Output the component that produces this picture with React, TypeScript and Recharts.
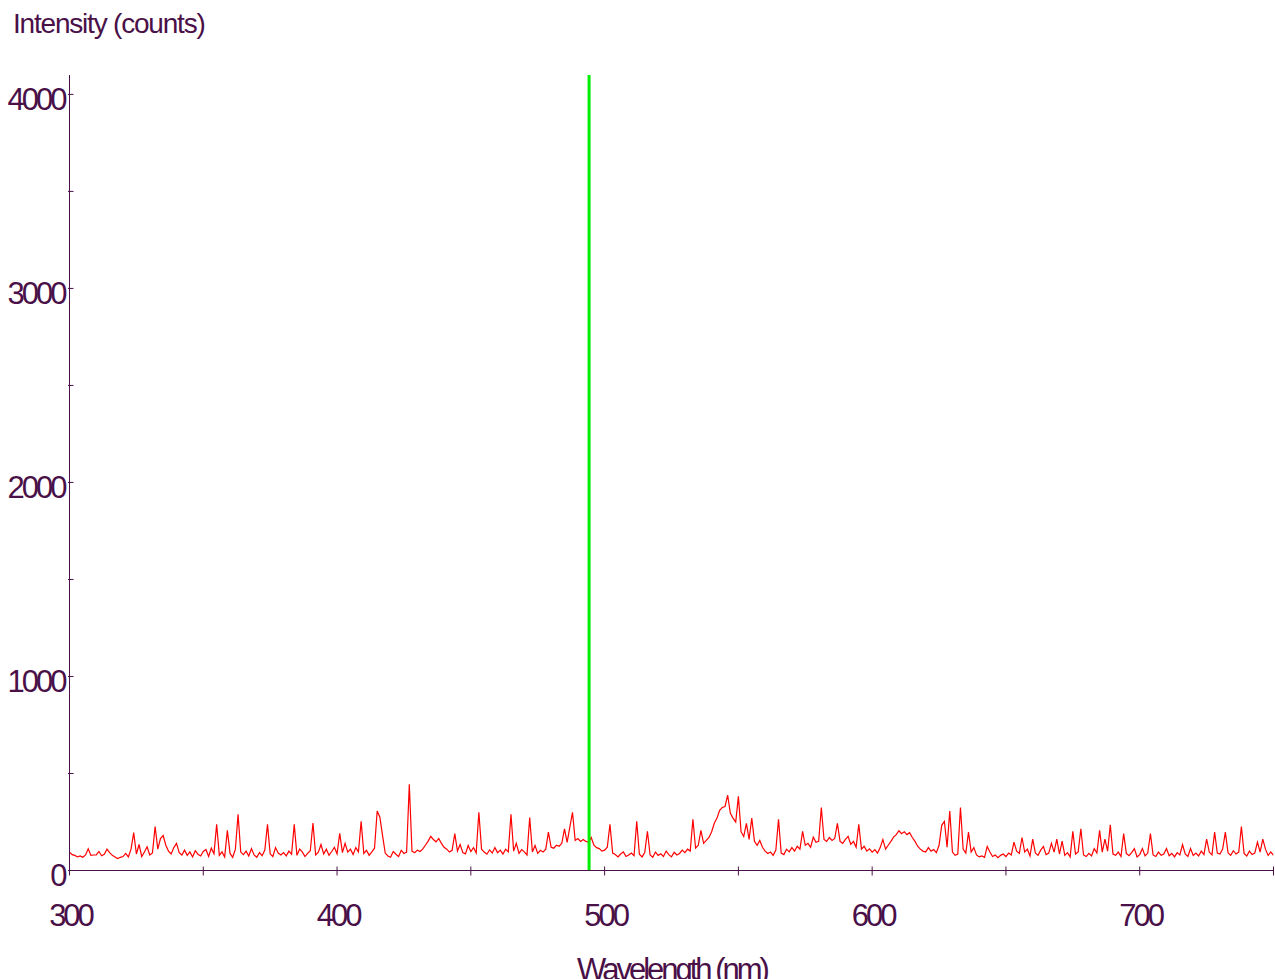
import React from "react";
import { LineChart, Line, XAxis, YAxis, ReferenceLine } from "recharts";

// Wavelength grid: 300..750 nm, 1 nm steps (rows of 10 values)
const WL_START = 300;
const intensityRows: number[][] = [
  [95, 82, 78, 70, 75, 68, 80, 112, 78, 80], // 300
  [80, 98, 76, 84, 110, 92, 78, 70, 62, 68], // 310
  [72, 88, 70, 110, 195, 85, 134, 72, 95, 122], // 320
  [80, 90, 227, 110, 165, 180, 130, 100, 85, 118], // 330
  [140, 92, 80, 105, 78, 96, 70, 102, 84, 75], // 340
  [98, 108, 72, 115, 86, 238, 78, 96, 70, 207], // 350
  [88, 68, 110, 290, 95, 82, 100, 75, 113, 80], // 360
  [68, 92, 76, 105, 238, 86, 72, 118, 90, 80], // 370
  [92, 75, 100, 84, 238, 78, 110, 96, 72, 88], // 380
  [102, 245, 80, 94, 134, 85, 110, 78, 98, 120], // 390
  [86, 191, 92, 140, 95, 110, 82, 118, 96, 253], // 400
  [88, 104, 78, 96, 115, 307, 275, 181, 90, 75], // 410
  [68, 98, 84, 72, 104, 88, 95, 444, 100, 92], // 420
  [105, 98, 110, 130, 150, 176, 160, 148, 165, 140], // 430
  [120, 110, 95, 104, 190, 100, 134, 92, 86, 129], // 440
  [98, 118, 90, 300, 110, 95, 84, 106, 90, 118], // 450
  [92, 105, 85, 110, 96, 290, 100, 140, 88, 108], // 460
  [96, 80, 273, 95, 129, 88, 104, 95, 110, 198], // 470
  [120, 115, 130, 125, 140, 215, 145, 224, 300, 155], // 480
  [165, 150, 160, 150, 145, 170, 130, 118, 113, 100], // 490
  [105, 120, 238, 90, 82, 70, 85, 96, 72, 80], // 500
  [90, 76, 253, 84, 70, 92, 202, 80, 68, 95], // 510
  [78, 86, 72, 100, 82, 70, 94, 80, 88, 105], // 520
  [92, 110, 100, 264, 115, 130, 207, 140, 155, 170], // 530
  [200, 243, 270, 310, 325, 330, 388, 295, 270, 250], // 540
  [382, 200, 175, 243, 160, 270, 150, 130, 155, 120], // 550
  [100, 88, 95, 78, 105, 264, 90, 82, 110, 96], // 560
  [118, 100, 125, 110, 202, 130, 140, 120, 172, 145], // 570
  [150, 325, 160, 150, 170, 155, 165, 243, 150, 140], // 580
  [160, 176, 135, 150, 120, 238, 110, 125, 100, 112], // 590
  [95, 108, 90, 118, 160, 110, 130, 150, 172, 185], // 600
  [205, 190, 200, 185, 195, 170, 150, 125, 110, 100], // 610
  [95, 118, 100, 108, 92, 130, 233, 253, 120, 307], // 620
  [95, 78, 85, 325, 110, 90, 198, 95, 118, 80], // 630
  [70, 75, 68, 124, 95, 72, 80, 66, 78, 85], // 640
  [72, 90, 80, 146, 100, 88, 170, 95, 110, 75], // 650
  [162, 90, 78, 105, 124, 82, 90, 140, 95, 162], // 660
  [85, 151, 78, 92, 70, 202, 85, 96, 215, 80], // 670
  [72, 88, 75, 113, 90, 207, 95, 162, 100, 236], // 680
  [85, 78, 95, 72, 190, 88, 76, 92, 113, 70], // 690
  [82, 113, 75, 90, 190, 80, 72, 95, 78, 85], // 700
  [113, 76, 88, 70, 92, 80, 134, 85, 72, 113], // 710
  [78, 90, 75, 100, 82, 162, 95, 80, 198, 90], // 720
  [85, 110, 198, 92, 78, 102, 85, 95, 227, 88], // 730
  [75, 100, 82, 90, 146, 95, 162, 110, 78, 96], // 740
  [78], // 750
];

const xTicks = [300, 350, 400, 450, 500, 550, 600, 650, 700, 750];
const yTicks = [0, 500, 1000, 1500, 2000, 2500, 3000, 3500, 4000];
const markerWavelength = 494.2;
const yAxisTitle = "Intensity (counts)";
const xAxisTitle = "Wavelength (nm)";

const data = intensityRows.flat().map((v, i) => ({ wl: WL_START + i, intensity: v }));

const AXIS = "#4a1048";
const FONT = "'Liberation Sans', Arial, sans-serif";

const XTick = (props: any) => {
  const { x, y, payload } = props;
  const v = payload.value as number;
  return (
    <g>
      <line x1={x} x2={x} y1={y - 4} y2={y + 5} stroke={AXIS} strokeWidth={1} />
      {v % 100 === 0 && (
        <text
          x={x + 1}
          y={y + 55}
          textAnchor="middle"
          fill={AXIS}
          fontFamily={FONT}
          fontSize={31}
          letterSpacing={-3}
        >
          {v}
        </text>
      )}
    </g>
  );
};

const YTick = (props: any) => {
  const { x, y, payload } = props;
  const v = payload.value as number;
  return (
    <g>
      <line x1={x - 1.5} x2={x + 4} y1={y} y2={y} stroke={AXIS} strokeWidth={1} />
      {v % 1000 === 0 && (
        <text
          x={x - 5}
          y={y + 15.5}
          textAnchor="end"
          fill={AXIS}
          fontFamily={FONT}
          fontSize={31}
          letterSpacing={-3}
        >
          {v}
        </text>
      )}
    </g>
  );
};

export default function App() {
  return (
    <div style={{ position: "absolute", left: 0, top: 0, width: 1275, height: 979, background: "#fff" }}>
      <LineChart
        width={1275}
        height={979}
        data={data}
        margin={{ top: 75, right: 1.5, bottom: 0, left: 0 }}
      >
        <XAxis
          dataKey="wl"
          type="number"
          domain={[300, 750]}
          ticks={xTicks}
          interval={0}
          height={108.5}
          tickSize={0}
          tickMargin={0}
          tickLine={false}
          axisLine={{ stroke: AXIS, strokeWidth: 1 }}
          tick={<XTick />}
          allowDataOverflow
        />
        <YAxis
          type="number"
          domain={[0, 4100]}
          ticks={yTicks}
          interval={0}
          width={69.5}
          tickSize={0}
          tickMargin={0}
          tickLine={false}
          axisLine={{ stroke: AXIS, strokeWidth: 1 }}
          tick={<YTick />}
          allowDataOverflow
        />
        <Line
          dataKey="intensity"
          type="linear"
          stroke="#ff0000"
          strokeWidth={1.2}
          dot={false}
          activeDot={false}
          isAnimationActive={false}
        />
        <ReferenceLine x={markerWavelength} stroke="#00ee00" strokeWidth={3} />
      </LineChart>
      <svg
        width={1275}
        height={979}
        style={{ position: "absolute", left: 0, top: 0, pointerEvents: "none" }}
      >
        <text x={13} y={33} fill={AXIS} fontFamily={FONT} fontSize={28} letterSpacing={-1.2}>
          {yAxisTitle}
        </text>
        <text
          x={672}
          y={980}
          textAnchor="middle"
          fill={AXIS}
          fontFamily={FONT}
          fontSize={31}
          letterSpacing={-3}
        >
          {xAxisTitle}
        </text>
      </svg>
    </div>
  );
}
